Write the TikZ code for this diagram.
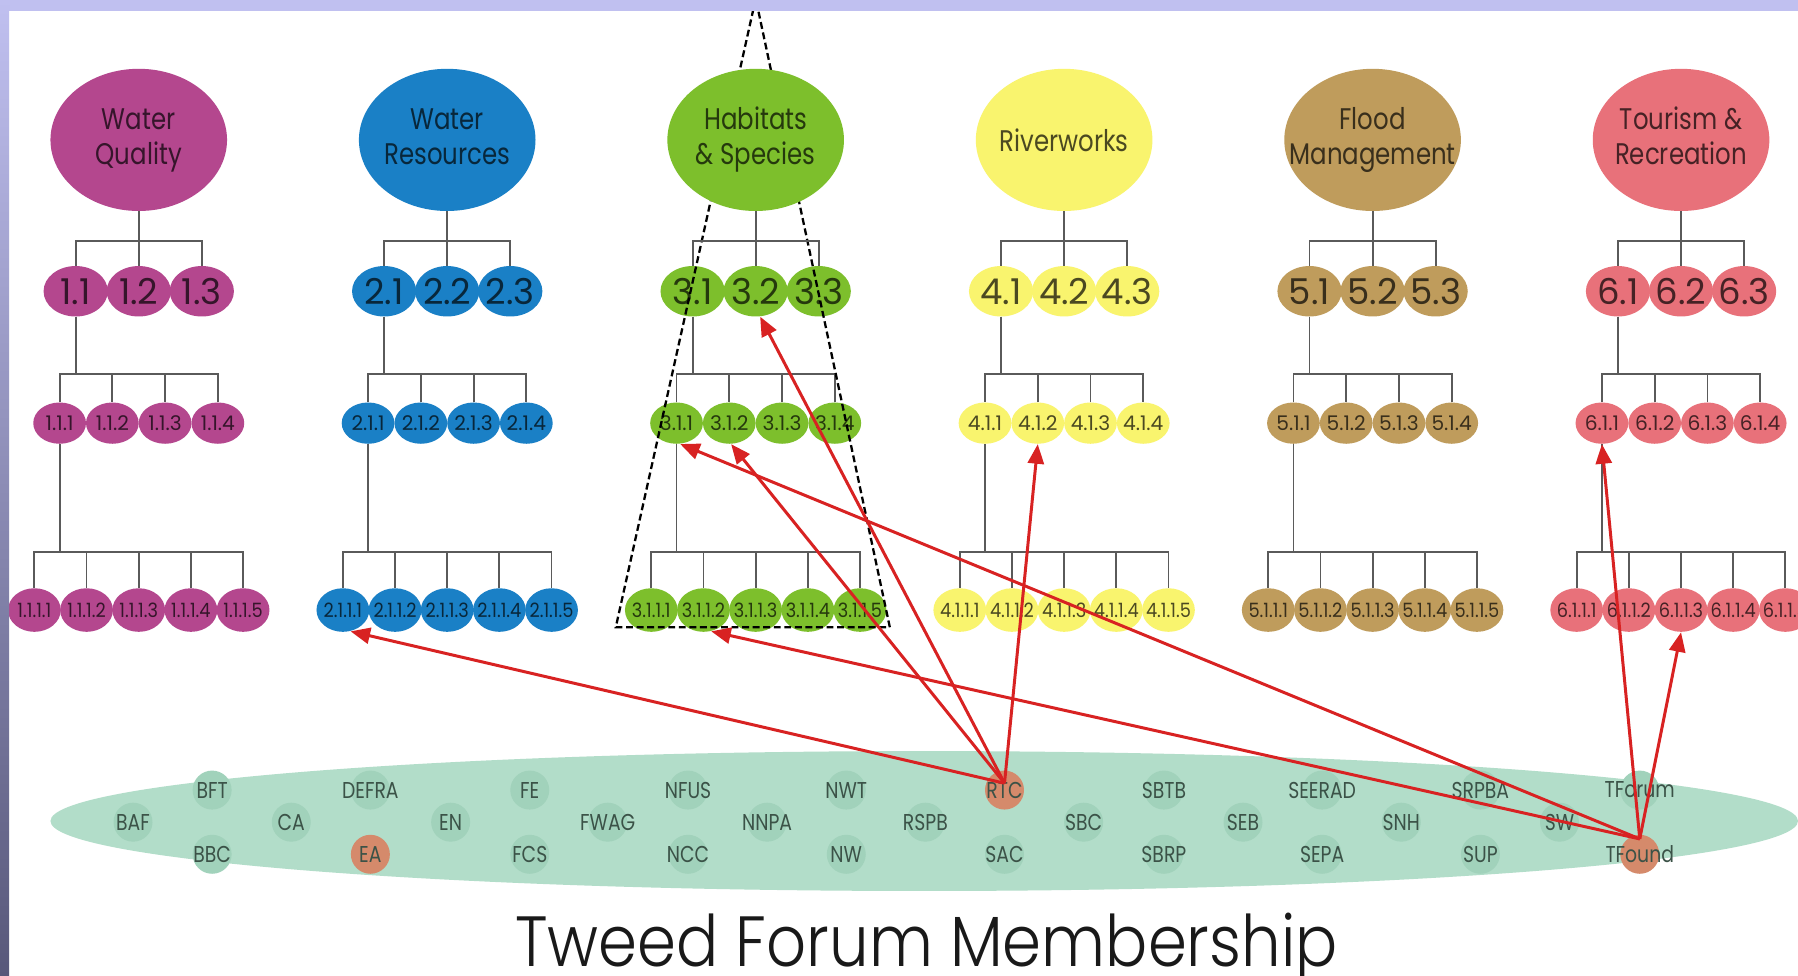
\documentclass[tikz,border=0pt]{standalone}
\usepackage{fontspec}
\setmainfont{Poppins}[FakeStretch=0.82]
\newfontfamily\titlefont{Poppins Light}[FakeStretch=0.88]
\newfontfamily\numfont{Poppins}
\newfontfamily\smallnum{Poppins}[FakeStretch=0.9]
\usetikzlibrary{shapes.geometric,arrows.meta,calc}
\definecolor{band}{HTML}{C0C0F0}
\definecolor{bandDark}{HTML}{58587A}
\definecolor{colA}{HTML}{B4478E}
\definecolor{colB}{HTML}{1A80C6}
\definecolor{colC}{HTML}{7DBF2C}
\definecolor{colD}{HTML}{F9F46E}
\definecolor{colE}{HTML}{BF9C5C}
\definecolor{colF}{HTML}{E8717A}
\definecolor{memb}{HTML}{B2DDC9}
\definecolor{membdot}{HTML}{A1D2BB}
\definecolor{membhot}{HTML}{D58A6B}
\definecolor{membtext}{HTML}{3B5247}
\definecolor{arrowred}{HTML}{D82222}
\definecolor{treeline}{HTML}{5A5A5A}
\newcommand{\zb}[1]{\makebox[0pt]{#1}}
\newcommand{\two}[2]{\makebox[0pt]{\begin{tabular}{@{}c@{}}#1\\#2\end{tabular}}}
\begin{document}
\begin{tikzpicture}[x=0.5pt,y=-0.5pt,
  topic/.style={ellipse,inner sep=0pt,minimum width=77pt,minimum height=62pt,font=\fontsize{13}{15.5}\selectfont},
  lone/.style={ellipse,inner sep=0pt,minimum width=28pt,minimum height=22pt,font=\numfont\fontsize{15.5}{17}\selectfont},
  ltwo/.style={ellipse,inner sep=0pt,minimum width=23pt,minimum height=18pt,font=\numfont\fontsize{8.8}{10}\selectfont},
  lthree/.style={ellipse,inner sep=0pt,minimum width=23pt,minimum height=19pt,font=\smallnum\fontsize{8.6}{10}\selectfont},
  tree/.style={draw=treeline,line width=0.8pt},
  member/.style={circle,inner sep=0pt,minimum size=17pt,fill=membdot,text=membtext,font=\fontsize{10}{12}\selectfont},
  hotmember/.style={member,fill=membhot},
  redarrow/.style={draw=arrowred,line width=1.3pt,-{Triangle[length=8.5pt,width=7pt]}},
  frameline/.style={draw=black,dash pattern=on 3pt off 1.6pt,line width=1pt}
]
\useasboundingbox (0,0) rectangle (1568,851);
\clip (0,0) rectangle (1568,851);
\fill[white] (0,0) rectangle (1568,851);

% lower levels of the six trees
\foreach \i/\cx/\col in {1/121/colA,2/390/colB,3/659/colC,4/928/colD,5/1197/colE,6/1466/colF}{
  \foreach \j/\dx in {1/-55,2/0,3/55}
    \node[lone,fill=\col,text=\col!30!black] (a\i-\j) at ({\cx+\dx},254) {\zb{\i.\j}};
  \foreach \j/\dx in {1/-69,2/-23,3/23,4/69}
    \node[ltwo,fill=\col,text=\col!30!black] (b\i-\j) at ({\cx+\dx},369) {\zb{\i.1.\j}};
  \foreach \j/\dx in {1/-91,2/-45.5,3/0,4/45.5,5/91}
    \node[lthree,fill=\col,text=\col!30!black] (d\i-\j) at ({\cx+\dx},532) {\zb{\i.1.1.\j}};
}
\foreach \i in {1,...,6}{
  \foreach \j in {1,2,3,4} \draw[tree] (a\i-1.south) -- ++(0,50) -| (b\i-\j.north);
  \foreach \j in {1,...,5} \draw[tree] (b\i-1.south) -- ++(0,94) -| (d\i-\j.north);
}

% dashed frame around Habitats & Species
\coordinate (apexL) at (657,8);
\coordinate (apexR) at (661,8);
\coordinate (baseL) at (537,547);
\coordinate (baseR) at (776,547);
\draw[frameline] (apexL) -- (baseL) -- (baseR) -- (apexR);

% topics
\node[topic,fill=colA,text=colA!30!black] (t1) at (121,122) {\two{Water}{Quality}};
\node[topic,fill=colB,text=colB!30!black] (t2) at (390,122) {\two{Water}{Resources}};
\node[topic,fill=colC,text=colC!30!black] (t3) at (659,122) {\two{Habitats}{\& Species}};
\node[topic,fill=colD,text=colD!30!black] (t4) at (928,122) {\zb{Riverworks}};
\node[topic,fill=colE,text=colE!30!black] (t5) at (1197,122) {\two{Flood}{Management}};
\node[topic,fill=colF,text=colF!30!black] (t6) at (1466,122) {\two{Tourism \&}{Recreation}};
\foreach \i in {1,...,6}
  \foreach \j in {1,2,3} \draw[tree] (t\i.south) -- ++(0,26) -| (a\i-\j.north);

% membership
\node[ellipse,fill=memb,inner sep=0pt,minimum width=762pt,minimum height=61pt] (forum) at (806,716) {};
\foreach \n/\x/\s in {BFT/185/member,DEFRA/323/member,FE/462/member,NFUS/600/member,NWT/738/member,RTC/876/hotmember,SBTB/1015/member,SEERAD/1153/member,SRPBA/1291/member,TForum/1430/member}
  \node[\s] (m-\n) at (\x,689) {\zb{\n}};
\foreach \n/\x/\s in {BAF/116/member,CA/254/member,EN/393/member,FWAG/530/member,NNPA/669/member,RSPB/807/member,SBC/945/member,SEB/1084/member,SNH/1222/member,SW/1360/member}
  \node[\s] (m-\n) at (\x,717) {\zb{\n}};
\foreach \n/\x/\s in {BBC/185/member,EA/323/hotmember,FCS/462/member,NCC/600/member,NW/738/member,SAC/876/member,SBRP/1015/member,SEPA/1153/member,SUP/1291/member,TFound/1430/hotmember}
  \node[\s] (m-\n) at (\x,745) {\zb{\n}};

\node[font=\titlefont\fontsize{31}{36}\selectfont,text=black!90,anchor=base,inner sep=0pt] (title) at (808,843) {Tweed Forum Membership};

% links
\coordinate (rtcp) at ($(m-RTC.center)+(0,-6)$);
\coordinate (tfp) at ($(m-TFound.north)+(0,4)$);
\draw[redarrow] (rtcp) -- (d2-1.-70);
\draw[redarrow] (rtcp) -- (a3-2.-80);
\draw[redarrow] (rtcp) -- (b3-2.-85);
\draw[redarrow] (rtcp) -- (b4-2.south);
\draw[redarrow] (tfp) -- (b3-1.-80);
\draw[redarrow] (tfp) -- (d3-2.-70);
\draw[redarrow] (tfp) -- (b6-1.south);
\draw[redarrow] (tfp) -- (d6-3.south);

% slide frame
\fill[band] (0,0) rectangle (1568,10);
\shade[top color=band,bottom color=bandDark] (0,0) rectangle (8,851);
\end{tikzpicture}
\end{document}
